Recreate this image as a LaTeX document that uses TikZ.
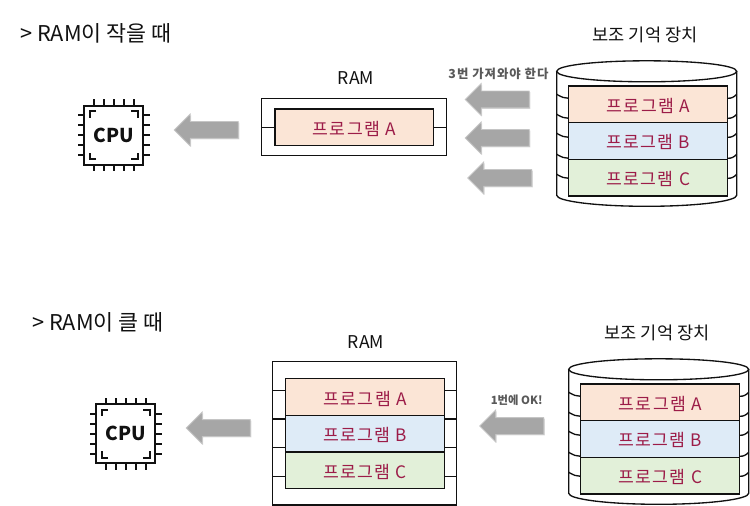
\documentclass[tikz,border=0pt]{standalone}
\usepackage{fontspec}
\setmainfont{Noto Sans CJK KR}
\newfontfamily\progfont[LetterSpace=8]{Noto Sans CJK KR}
\newfontfamily\widefont[LetterSpace=8]{Noto Sans CJK KR}
\usetikzlibrary{calc,positioning,shapes.arrows,shadows}
\definecolor{ink}{HTML}{111111}
\definecolor{crimson}{HTML}{9C1C48}
\definecolor{peach}{HTML}{FBE5D6}
\definecolor{skyblue}{HTML}{DEEBF7}
\definecolor{sage}{HTML}{E2F0D9}
\definecolor{arrowgray}{HTML}{A6A6A6}
\definecolor{notegray}{HTML}{595959}
\tikzset{
  title/.style={font=\fontsize{16.3}{17}\selectfont,text=ink,inner sep=0pt},
  caption/.style={font=\fontsize{13.2}{14}\selectfont,text=ink,inner sep=0pt},
  note/.style={font=\fontsize{8.5}{9}\selectfont\bfseries,text=notegray,inner sep=0pt},
  progbox/.style={draw=ink,line width=1.1pt,outer sep=0pt,minimum width=119.25pt,minimum height=27.5pt,
    inner sep=0pt,text height=14pt,text depth=2pt,text=crimson,font=\fontsize{12.9}{13}\selectfont\progfont},
  rambox/.style={draw=ink,line width=1pt,outer sep=0pt,inner sep=0pt},
  tick/.style={draw=ink,line width=1pt},
  blockarrow/.style={single arrow,shape border rotate=180,draw=arrowgray!65,line width=0.6pt,fill=arrowgray,
    minimum height=48pt,inner xsep=0pt,inner ysep=6pt,single arrow head extend=5.6pt,single arrow tip angle=90,
    drop shadow={shadow xshift=0.8pt,shadow yshift=-0.8pt,opacity=0.3}},
  chipbox/.style={draw=ink,line width=1.7pt,minimum size=44pt,inner sep=0pt,outer sep=0pt,
    font=\fontsize{14.3}{15}\selectfont\bfseries,text=ink},
  pin/.style={draw=ink,line width=1.5pt},
  cpuchip/.pic={
    \node[chipbox] (-box) at (0,0) {CPU};
    \foreach \d in {-20,-10,0,10,20} {
      \draw[pin] (\d,-29.5) -- (\d,-36);
      \draw[pin] (\d,29.5) -- (\d,36);
      \draw[pin] (-29.5,\d) -- (-36,\d);
      \draw[pin] (29.5,\d) -- (36,\d);
    }
    % corner marks
    \foreach \sx/\sy in {-1/-1,1/-1,-1/1,1/1}
      \draw[pin] ({\sx*17.5},{\sy*24}) -- ({\sx*24},{\sy*24}) -- ({\sx*24},{\sy*17.5});
  },
  storagedisk/.pic={
    \draw[rambox,fill=white] (-90,0) -- (-90,124)
      .. controls (-90,130) and (-50,135) .. (0,135) .. controls (50,135) and (90,130) .. (90,124) -- (90,0);
    \draw[rambox,fill=white] (-90,0)
      .. controls (-90,-6) and (-50,-10.5) .. (0,-10.5) .. controls (50,-10.5) and (90,-6) .. (90,0)
      .. controls (90,6) and (50,10.5) .. (0,10.5) .. controls (-50,10.5) and (-90,6) .. (-90,0) -- cycle;
    \foreach \y in {23,43,62,83,103} {
      \draw[tick] (-90,\y) .. controls (-85,\y+3) and (-82,\y+4) .. (-78,\y+4);
      \draw[tick] (90,\y) .. controls (87,\y+3) and (85,\y+4) .. (81,\y+4);
    }
    \node[progbox,fill=peach] (-a) at (1.5,33) {프로그램 A};
    \node[progbox,fill=skyblue,below=0pt of -a] (-b) {프로그램 B};
    \node[progbox,fill=sage,below=0pt of -b] (-c) {프로그램 C};
  }
}
\begin{document}
\begin{tikzpicture}[x=0.75pt,y=-0.75pt]
  \useasboundingbox (0,0) rectangle (750,506);

  % RAM small
  \node[title,anchor=west] (titlesmall) at (20,33) {> RAM이 작을 때};
  \pic (cpusmall) at (113.5,135.5) {cpuchip};
  \node[blockarrow] (fetchsmall) at (210.5,130) {};
  \node[rambox,minimum width=138.75pt,minimum height=43pt] (ramsmall) at (354.3,127) {};
  \node[caption] (ramsmalllabel) at (356,78) {RAM};
  \node[progbox,minimum width=119pt,fill=peach] (progsmall) at (354.3,127.3) {프로그램 A};
  \draw[tick] (ramsmall.west |- progsmall.west) -- (progsmall.west);
  \draw[tick] (progsmall.east) -- (ramsmall.east |- progsmall.east);
  \node[note,font=\fontsize{9.3}{10}\selectfont\widefont\bfseries] (notesmall) at (498.5,74) {3번 가져와야 한다};
  \node[blockarrow] (loada) at (501.5,99.5) {};
  \node[blockarrow] (loadb) at (501.5,138) {};
  \node[blockarrow] (loadc) at (504,178) {};
  \node[caption] (disksmalllabel) at (645,35) {보조 기억 장치};
  \pic (disksmall) at (646.7,71.3) {storagedisk};

  % RAM large
  \node[title,anchor=west] (titlelarge) at (32,322) {> RAM이 클 때};
  \pic (cpularge) at (125.5,433.5) {cpuchip};
  \node[blockarrow] (fetchlarge) at (222.5,428) {};
  \node[rambox,minimum width=138.3pt,minimum height=107.7pt] (ramlarge) at (364.5,433.2) {};
  \node[caption] (ramlargelabel) at (366,342) {RAM};
  \node[progbox,fill=peach] (proglargea) at (365,397) {프로그램 A};
  \node[progbox,fill=skyblue,below=0pt of proglargea] (proglargeb) {프로그램 B};
  \node[progbox,fill=sage,below=0pt of proglargeb] (proglargec) {프로그램 C};
  \foreach \y in {390.3,419,447.7,476.3} {
    \draw[tick] (ramlarge.west |- 0,\y) -- (proglargea.west |- 0,\y);
    \draw[tick] (proglargea.east |- 0,\y) -- (ramlarge.east |- 0,\y);
  }
  \node[note] (notelarge) at (516.7,400) {1번에 OK!};
  \node[blockarrow] (loadlarge) at (516,426) {};
  \node[caption] (disklargelabel) at (657,333) {보조 기억 장치};
  \pic (disklarge) at (658.7,369.3) {storagedisk};
\end{tikzpicture}
\end{document}
